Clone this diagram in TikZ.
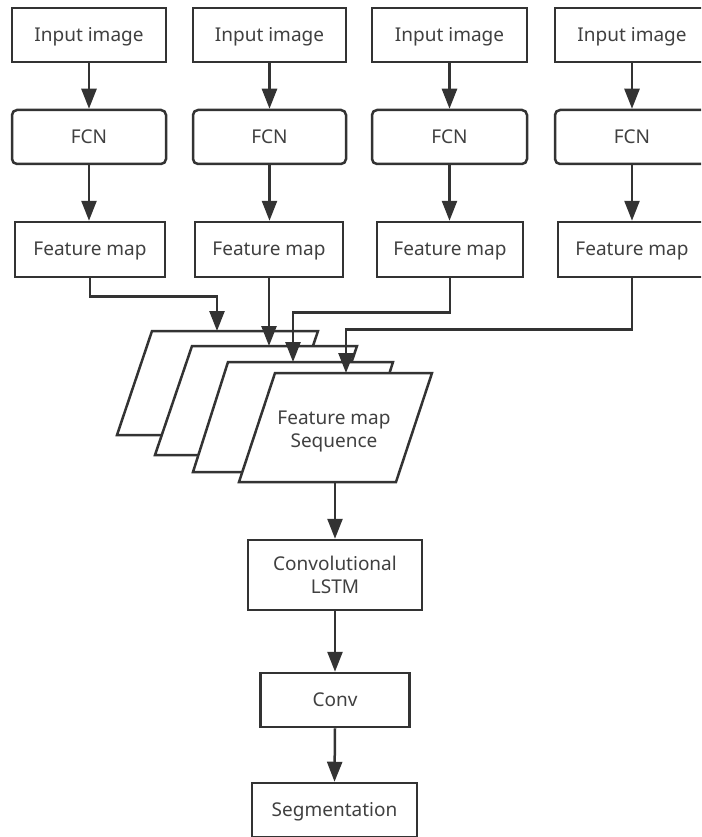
\documentclass[tikz,border=0pt]{standalone}
\usepackage{fontspec}
\setmainfont{Noto Sans}
\usetikzlibrary{arrows.meta}
\definecolor{lc}{HTML}{333333}
\definecolor{tc}{HTML}{404040}
\begin{document}
\begin{tikzpicture}[x=1pt,y=-1pt,
  line width=2.5pt,
  txtm/.style={font=\fontsize{19}{23}\selectfont, text=tc, align=center, inner sep=0pt},
  txt/.style={txtm, text height=13.6pt, text depth=1pt},
  box/.style={txt, draw=lc, fill=white, minimum width=154pt, minimum height=54pt},
  mbox/.style={txtm, draw=lc, fill=white, minimum width=154pt, minimum height=54pt},
  rbox/.style={box, rounded corners=5pt},
  arr/.style={draw=lc, -{Triangle[length=20pt,width=15pt]}},
  para/.style={draw=lc, fill=white, line join=miter}]
\useasboundingbox (0,0) rectangle (701,837);
\clip (0,0) rectangle (701,837);

% column 1
\node[box] (in1) at (89,35) {Input image};
\node[rbox] (fcn1) at (89,137) {FCN};
\node[box, minimum width=150pt, minimum height=55pt] (fm1) at (90,249.5) {Feature map};
% column 2
\node[box, minimum width=153pt] (in2) at (269.5,35) {Input image};
\node[rbox, minimum width=153pt] (fcn2) at (269.5,137) {FCN};
\node[box, minimum width=148pt, minimum height=55pt] (fm2) at (269,249.5) {Feature map};
% column 3
\node[box, minimum width=155pt] (in3) at (449.5,35) {Input image};
\node[rbox, minimum width=155pt] (fcn3) at (449.5,137) {FCN};
\node[box, minimum width=146pt, minimum height=55pt] (fm3) at (450,249.5) {Feature map};
% column 4
\node[box] (in4) at (632,35) {Input image};
\node[rbox] (fcn4) at (632,137) {FCN};
\node[box, minimum width=148pt, minimum height=55pt] (fm4) at (632,249.5) {Feature map};

\foreach \i in {1,2,3,4}{
  \draw[arr] (in\i.south) -- (in\i.south |- fcn\i.north);
  \draw[arr] (fcn\i.south) -- (fcn\i.south |- fm\i.north);
}

% stacked parallelograms
\draw[para] (152,331) -- (318,331) -- (283,435) -- (117,435) -- cycle;
\draw[para] (192,346) -- (357,346) -- (320,455) -- (155,455) -- cycle;
\draw[para] (228,362) -- (393,362) -- (358,472) -- (193,472) -- cycle;
\draw[para] (275,373) -- (432,373) -- (396,482) -- (239,482) -- cycle;
\node[txtm] (seq) at (334,431) {Feature map\\Sequence};

\coordinate (p1t) at (217,331);
\coordinate (p2t) at (269,346);
\coordinate (p3t) at (293,362);
\coordinate (p4t) at (346,373);
\coordinate (p4b) at (335,482);

\draw[arr] (fm1.south) -- ++(0,18) -| (p1t);
\draw[arr] (fm2.south) -- (p2t);
\draw[arr] (fm3.south) -- ++(0,34) -| (p3t);
\draw[arr] (fm4.south) -- ++(0,51) -| (p4t);

% lower chain
\node[mbox, minimum width=174pt, minimum height=70pt] (lstm) at (335,575) {Convolutional\\LSTM};
\node[box, minimum width=149pt] (conv) at (335,700) {Conv};
\node[box, minimum width=165pt] (seg) at (334.5,810) {Segmentation};

\draw[arr] (p4b) -- (lstm.north);
\draw[arr] (lstm.south) -- (conv.north);
\draw[arr] (conv.south) -- (seg.north);
\end{tikzpicture}
\end{document}
